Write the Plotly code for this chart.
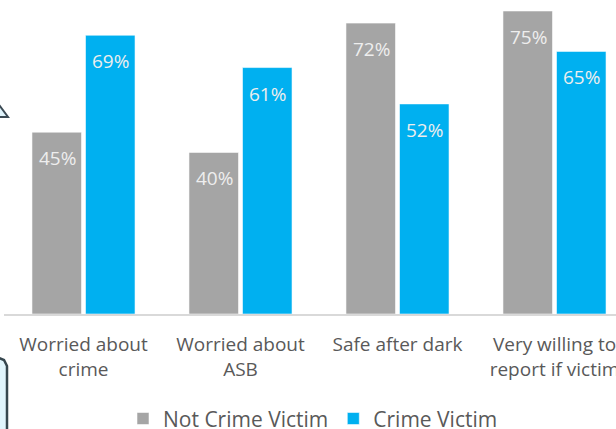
import plotly.graph_objects as go

categories = ["Worried about<br>crime", "Worried about<br>ASB", "Safe after dark", "Very willing to<br>report if victim"]
not_victim = [45, 40, 72, 75]
victim = [69, 61, 52, 65]
series_names = ["Not Crime Victim", "Crime Victim"]
colors = ["#a5a5a5", "#00b0f0"]

W, H = 616, 429
L, B = 4, 115
plot_w = W - L
plot_h = H - B
cat_px = 157.0
x0 = -0.5 - 1.0 / cat_px
xr = [x0, x0 + plot_w / cat_px]
px_per = 4.04
yr = [0, plot_h / px_per]

FONT = "Open Sans, Noto Sans, DejaVu Sans, sans-serif"

fig = go.Figure()
for name, vals, col in zip(series_names, [not_victim, victim], colors):
    fig.add_trace(go.Bar(
        x=categories, y=vals, name=name,
        marker=dict(color=col, line=dict(color="rgba(255,255,255,0.55)", width=1)),
        hoverinfo="skip",
    ))

annotations = []
for shift, vals in zip([-26.5, 26.5], [not_victim, victim]):
    for c, v in zip(categories, vals):
        annotations.append(dict(
            x=c, y=v, xref="x", yref="y", text=f"{v}%", showarrow=False,
            xshift=shift, yshift=-26, yanchor="middle", xanchor="center",
            font=dict(family=FONT, size=19, color="#eeeeee"),
        ))

def px_to_paper(px, py):
    return (px - L) / plot_w, (plot_h - py) / plot_h

def path(points, close=True):
    parts = []
    for i, (a, b) in enumerate(points):
        xp, yp = px_to_paper(a, b)
        parts.append(("M" if i == 0 else "L") + f"{xp:.5f},{yp:.5f}")
    return " ".join(parts) + (" Z" if close else "")

shapes = [
    dict(type="path", xref="paper", yref="paper",
         path=path([(-3, 102), (8, 117), (-3, 117)]),
         fillcolor="#dff3fb", line=dict(color="#3b4a54", width=2)),
    dict(type="path", xref="paper", yref="paper",
         path=path([(-10, 358), (-1, 358), (4, 360), (7, 366), (7, 440), (-10, 440)]),
         fillcolor="#e1f5fd", line=dict(color="#37474f", width=2.5)),
]

fig.update_layout(
    width=W, height=H,
    margin=dict(l=L, r=0, t=0, b=B, autoexpand=False),
    paper_bgcolor="white", plot_bgcolor="white",
    barmode="group", bargap=0.318, bargroupgap=0.075,
    font=dict(family=FONT, color="#595959"),
    showlegend=True,
    legend=dict(orientation="h", x=(123 - L) / plot_w, xanchor="left", y=-0.334, yanchor="middle",
                font=dict(family=FONT, size=21, color="#595959"),
                bgcolor="rgba(0,0,0,0)", itemwidth=30),
    annotations=annotations,
    shapes=shapes,
)
fig.update_xaxes(range=xr, showline=True, linecolor="#d9d9d9", linewidth=2,
                 showgrid=False, zeroline=False, ticks="",
                 tickfont=dict(family=FONT, size=19, color="#595959"),
                 ticklabelstandoff=12, ticklabeloverflow="allow", automargin=False)
fig.update_yaxes(range=yr, visible=False, showgrid=False, zeroline=False)

fig.write_html("out.html")
